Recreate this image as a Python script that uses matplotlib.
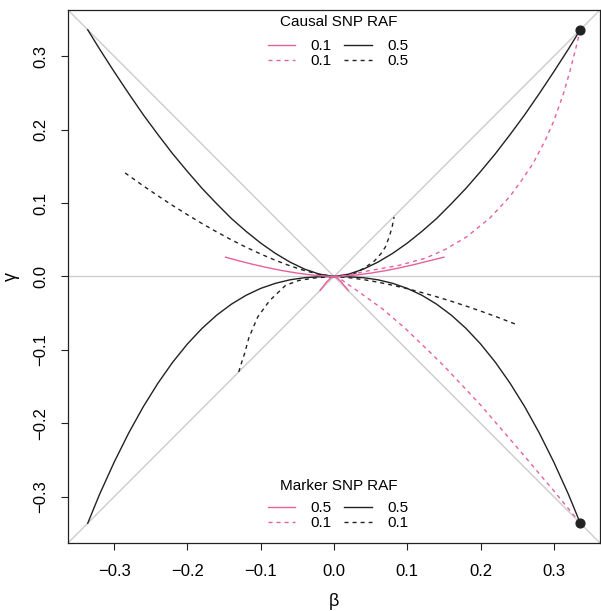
import matplotlib
matplotlib.use("Agg")
import matplotlib.pyplot as plt
from matplotlib.lines import Line2D

plt.rcParams['font.family'] = ['Liberation Sans', 'DejaVu Sans']

PINK = "#E5619E"
DARK = "#222222"
GRAY = "#CCCCCC"

# ---- data ----
# black solid: causal RAF 0.5 / marker RAF 0.5, upper branch
bsu_x = [-0.336, -0.32, -0.30, -0.28, -0.26, -0.24, -0.22, -0.20, -0.18, -0.16, -0.14, -0.12, -0.10, -0.08, -0.06, -0.04, -0.02, 0.0,
         0.02, 0.04, 0.06, 0.08, 0.10, 0.12, 0.14, 0.16, 0.18, 0.20, 0.22, 0.24, 0.26, 0.28, 0.30, 0.32, 0.336]
bsu_y = [0.336, 0.310, 0.279, 0.249, 0.220, 0.193, 0.167, 0.143, 0.120, 0.099, 0.079, 0.0615, 0.0455, 0.0315, 0.0196, 0.010, 0.0032, 0.0,
         0.0032, 0.010, 0.0196, 0.0315, 0.0455, 0.0615, 0.079, 0.099, 0.120, 0.143, 0.167, 0.193, 0.220, 0.249, 0.279, 0.310, 0.336]
# black solid lower branch
bsl_x = bsu_x
bsl_y = [-0.336, -0.297, -0.253, -0.213, -0.177, -0.145, -0.1166, -0.0919, -0.0706, -0.0526, -0.0377, -0.0256, -0.0162, -0.0093, -0.0045, -0.0016, -0.0004, 0.0,
         -0.0004, -0.0016, -0.0045, -0.0093, -0.0162, -0.0256, -0.0377, -0.0526, -0.0706, -0.0919, -0.1166, -0.145, -0.177, -0.213, -0.253, -0.297, -0.336]
# black dashed: causal 0.5 / marker 0.1, long branch
bdl_x = [-0.285, -0.26, -0.24, -0.22, -0.20, -0.18, -0.16, -0.14, -0.12, -0.10, -0.08, -0.06, -0.04, -0.02, 0.0,
         0.02, 0.04, 0.06, 0.08, 0.10, 0.12, 0.14, 0.16, 0.18, 0.20, 0.22, 0.248]
bdl_y = [0.141, 0.1233, 0.1097, 0.0966, 0.0841, 0.0721, 0.0607, 0.0499, 0.0399, 0.0306, 0.0221, 0.0145, 0.0080, 0.0029, 0.0,
         -0.0015, -0.0042, -0.0077, -0.0119, -0.0166, -0.0219, -0.0276, -0.0337, -0.0402, -0.0471, -0.0543, -0.065]
# black dashed steep branch
bds_x = [-0.130, -0.126, -0.122, -0.116, -0.104, -0.088, -0.066, -0.048, -0.025, 0.0, 0.02, 0.03, 0.043, 0.055, 0.064, 0.070, 0.075, 0.079, 0.082]
bds_y = [-0.130, -0.117, -0.105, -0.083, -0.055, -0.033, -0.012, -0.0054, -0.0018, 0.0, 0.002, 0.005, 0.0127, 0.021, 0.031, 0.040, 0.053, 0.066, 0.081]
# pink solid: causal 0.1 / marker 0.5
psu_x = [-0.148, -0.13, -0.11, -0.09, -0.07, -0.05, -0.03, -0.01, 0.0, 0.01, 0.03, 0.05, 0.07, 0.09, 0.11, 0.13, 0.150]
psu_y = [0.0263, 0.0214, 0.0164, 0.0119, 0.0079, 0.0046, 0.0020, 0.0004, 0.0, 0.0004, 0.0020, 0.0046, 0.0079, 0.0119, 0.0164, 0.0214, 0.0263]
psc_x = [-0.019, -0.014, -0.010, -0.006, -0.003, 0.0, 0.003, 0.006, 0.010, 0.014, 0.0195]
psc_y = [-0.019, -0.0125, -0.0075, -0.0035, -0.001, 0.0, -0.001, -0.0035, -0.0075, -0.0125, -0.019]
# pink dashed: causal 0.1 / marker 0.1
pdu_x = [0.0, 0.02, 0.043, 0.065, 0.088, 0.125, 0.152, 0.181, 0.213, 0.240, 0.256, 0.271, 0.288, 0.300, 0.313, 0.322, 0.329, 0.336]
pdu_y = [0.0, 0.002, 0.007, 0.011, 0.015, 0.025, 0.037, 0.054, 0.080, 0.109, 0.131, 0.153, 0.185, 0.212, 0.249, 0.280, 0.307, 0.336]
pdl_x = [0.0, 0.011, 0.034, 0.066, 0.0975, 0.134, 0.154, 0.20, 0.25, 0.30, 0.336]
pdl_y = [0.0, -0.005, -0.021, -0.044, -0.071, -0.106, -0.126, -0.175, -0.233, -0.292, -0.336]
# end points
dot_x = [0.336, 0.336]
dot_y = [0.336, -0.336]

xticks = [-0.3, -0.2, -0.1, 0.0, 0.1, 0.2, 0.3]
yticks = [-0.3, -0.2, -0.1, 0.0, 0.1, 0.2, 0.3]
xlim = (-0.3629, 0.3629)
ylim = (-0.3629, 0.3629)

top_title = "Causal SNP RAF"
top_labels = ["0.1", "0.1", "0.5", "0.5"]
bot_title = "Marker SNP RAF"
bot_labels = ["0.5", "0.1", "0.5", "0.1"]

W, H = 601, 611
fig = plt.figure(figsize=(W / 100, H / 100), dpi=100)
ax = fig.add_axes([68 / W, (H - 543) / H, 532 / W, 533 / H])
ax.set_xlim(*xlim)
ax.set_ylim(*ylim)

# reference lines
ax.plot([xlim[0], xlim[1]], [ylim[0], ylim[1]], color=GRAY, lw=1.0, zorder=1)
ax.plot([xlim[0], xlim[1]], [ylim[1], ylim[0]], color=GRAY, lw=1.0, zorder=1)
ax.axhline(0, color=GRAY, lw=1.0, zorder=1)

dash = (0, (2.9, 2.9))
lw = 1.0
ax.plot(bsu_x, bsu_y, color=DARK, lw=lw)
ax.plot(bsl_x, bsl_y, color=DARK, lw=lw)
ax.plot(bdl_x, bdl_y, color=DARK, lw=lw, linestyle=dash)
ax.plot(bds_x, bds_y, color=DARK, lw=lw, linestyle=dash)
ax.plot(psu_x, psu_y, color=PINK, lw=lw)
ax.plot(psc_x, psc_y, color=PINK, lw=lw)
ax.plot(pdu_x, pdu_y, color=PINK, lw=lw, linestyle=dash)
ax.plot(pdl_x, pdl_y, color=PINK, lw=lw, linestyle=dash)
ax.scatter(dot_x, dot_y, s=40, color=DARK, zorder=5)

ax.set_xticks(xticks)
ax.set_yticks(yticks)
ax.set_xticklabels([f"{t:.1f}".replace("-", "\u2212") for t in xticks])
ax.set_yticklabels([f"{t:.1f}".replace("-", "\u2212") for t in yticks], rotation=90, va="center")
ax.tick_params(axis="both", direction="out", length=5, width=0.8, labelsize=12, color=DARK)
ax.tick_params(axis="x", pad=10)
ax.tick_params(axis="y", pad=9)
for s in ax.spines.values():
    s.set_linewidth(0.9)
    s.set_color(DARK)

ax.set_xlabel("\u03b2", fontsize=13, labelpad=10)
ax.set_ylabel("\u03b3", fontsize=13, labelpad=10)

def make_handles(specs):
    return [Line2D([], [], color=c, lw=lw, linestyle=ls) for c, ls in specs]

specs = [(PINK, "-"), (PINK, dash), (DARK, "-"), (DARK, dash)]

def fx(px):
    return px / W

def fy(py):
    return 1 - py / H

leg_kw = dict(ncol=2, loc="center", frameon=False, fontsize=11, handlelength=1.8,
              handletextpad=1.0, columnspacing=0.8, labelspacing=0.05,
              borderpad=0, borderaxespad=0, bbox_transform=fig.transFigure)

fig.text(fx(339), fy(22), top_title, ha="center", va="center", fontsize=11)
leg1 = ax.legend(make_handles(specs), top_labels, bbox_to_anchor=(fx(338), fy(53.5)), **leg_kw)
ax.add_artist(leg1)

fig.text(fx(339), fy(486), bot_title, ha="center", va="center", fontsize=11)
leg2 = ax.legend(make_handles(specs), bot_labels, bbox_to_anchor=(fx(338), fy(515.5)), **leg_kw)

fig.savefig("out.png", dpi=100)
